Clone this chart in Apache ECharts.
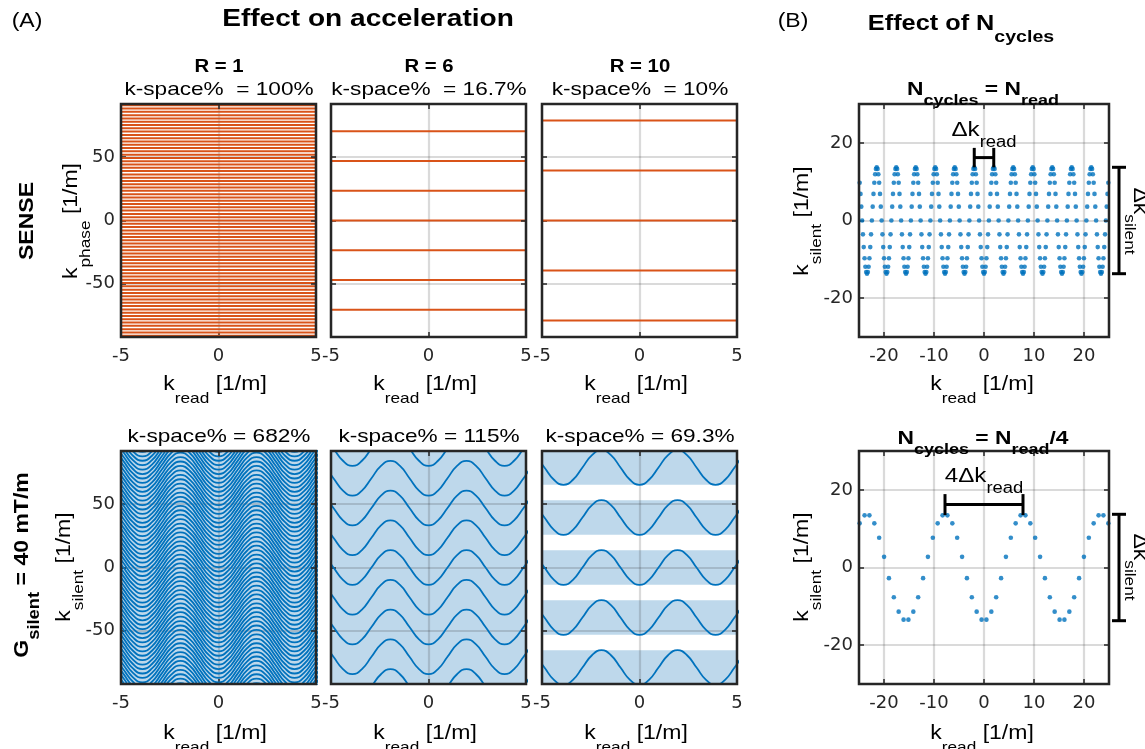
<!DOCTYPE html>
<html>
<head>
<meta charset="utf-8">
<script src="https://cdn.jsdelivr.net/npm/echarts@6/dist/echarts.min.js"></script>
<style>
  html, body { margin: 0; background: #fff; }
  #chart { width: 1145px; height: 749px; }
</style>
</head>
<body>
<div id="chart"></div>
<script>
// ---- values ----
const dkRead = 3.9        // spacing of the silent oscillation along k_read [1/m]
const dkSilent = 27.4     // peak-to-peak k_silent excursion [1/m]

const kReadLimA = [-5, 5]
const kPhaseLim = [-92, 92]
const kReadLimB = [-25, 25]
const kSilentLimB = [-30, 30]

// SENSE: acquired k_phase lines
const senseR1 = [-91, -88.4, -85.8, -83.2, -80.6, -78, -75.4, -72.8, -70.2, -67.6, -65, -62.4, -59.8, -57.2,
  -54.6, -52, -49.4, -46.8, -44.2, -41.6, -39, -36.4, -33.8, -31.2, -28.6, -26, -23.4, -20.8, -18.2, -15.6,
  -13, -10.4, -7.8, -5.2, -2.6, 0, 2.6, 5.2, 7.8, 10.4, 13, 15.6, 18.2, 20.8, 23.4, 26, 28.6, 31.2, 33.8,
  36.4, 39, 41.6, 44.2, 46.8, 49.4, 52, 54.6, 57.2, 59.8, 62.4, 65, 67.6, 70.2, 72.8, 75.4, 78, 80.6, 83.2,
  85.8, 88.4, 91]
const senseR6 = [-70.5, -47, -23.5, 0, 23.5, 47, 70.5]
const senseR10 = [-79, -39.5, 0, 39.5, 79]

// G_silent: centre of each oscillating line
const silentR1 = [-105, -101.5, -98, -94.5, -91, -87.5, -84, -80.5, -77, -73.5, -70, -66.5, -63, -59.5, -56,
  -52.5, -49, -45.5, -42, -38.5, -35, -31.5, -28, -24.5, -21, -17.5, -14, -10.5, -7, -3.5, 0, 3.5, 7, 10.5,
  14, 17.5, 21, 24.5, 28, 31.5, 35, 38.5, 42, 45.5, 49, 52.5, 56, 59.5, 63, 66.5, 70, 73.5, 77, 80.5, 84,
  87.5, 91, 94.5, 98, 101.5, 105]
const silentR6 = [-94, -70.5, -47, -23.5, 0, 23.5, 47, 70.5, 94]
const silentR10 = [-79, -39.5, 0, 39.5, 79]

// one period of an oscillating line (fraction of period, k_silent / half excursion)
const wavePhase = [0, 0.125, 0.25, 0.375, 0.5, 0.625, 0.75, 0.875]
const waveLevel = [-1, -0.71, 0, 0.71, 1, 0.71, 0, -0.71]

// panel B samples, one period each
const dotsFullPhase = [0, 0.042, 0.083, 0.125, 0.167, 0.208, 0.25, 0.292, 0.333, 0.375, 0.417, 0.458,
  0.5, 0.542, 0.583, 0.625, 0.667, 0.708, 0.75, 0.792, 0.833, 0.875, 0.917, 0.958]
const dotsFullLevel = [-1, -0.97, -0.87, -0.71, -0.5, -0.26, 0, 0.26, 0.5, 0.71, 0.87, 0.97,
  1, 0.97, 0.87, 0.71, 0.5, 0.26, 0, -0.26, -0.5, -0.71, -0.87, -0.97]
const dotsQuarterPhase = [0.031, 0.094, 0.156, 0.219, 0.281, 0.344, 0.406, 0.469,
  0.531, 0.594, 0.656, 0.719, 0.781, 0.844, 0.906, 0.969]
const dotsQuarterLevel = [-0.98, -0.83, -0.56, -0.2, 0.2, 0.56, 0.83, 0.98,
  0.98, 0.83, 0.56, 0.2, -0.2, -0.56, -0.83, -0.98]

// annotation brackets: [from, to, at]
const dkReadMark = [-1.95, 1.95, 16.2]
const dk4ReadMark = [-7.8, 7.8, 16.2]
const dkSilentMark = [-13.7, 13.7, 27]

// ---- styling ----
const ink = '#262626'
const orange = '#D95319'
const blue = '#0072BD'
const band = '#bed8eb'
const FONT = '"Liberation Sans", Arial, sans-serif'
const TICKFONT = '"DejaVu Sans", sans-serif'

const rects = [
  { left: 121, top: 104, width: 195, height: 233 },
  { left: 331, top: 104, width: 195, height: 233 },
  { left: 542, top: 104, width: 195, height: 233 },
  { left: 121, top: 451, width: 195, height: 233 },
  { left: 331, top: 451, width: 195, height: 233 },
  { left: 542, top: 451, width: 195, height: 233 },
  { left: 859, top: 104, width: 250, height: 233 },
  { left: 859, top: 451, width: 250, height: 233 }
]

function waveLine (center) {
  const pts = []
  for (let p = -2; p < 2; p++) {
    wavePhase.forEach((f, j) => pts.push([(p + f) * dkRead, center + waveLevel[j] * dkSilent / 2]))
  }
  pts.push([2 * dkRead, center + waveLevel[0] * dkSilent / 2])
  return pts
}

function tile (phases, levels, period, from, to) {
  const pts = []
  for (let p = from; p <= to; p++) {
    phases.forEach((f, j) => pts.push([(p + f) * period, levels[j] * dkSilent / 2]))
  }
  return pts
}

function hBracket (m, cap) {
  const [x0, x1, y] = m
  return [[[x0, y], [x1, y]], [[x0, y - cap], [x0, y + cap]], [[x1, y - cap], [x1, y + cap]]]
}
function vBracket (m, cap) {
  const [y0, y1, x] = m
  return [[[x, y0], [x, y1]], [[x - cap, y0], [x + cap, y0]], [[x - cap, y1], [x + cap, y1]]]
}

// text with TeX-like subscripts: parts = [[text, isSub], ...]; (x, y) = centre of the main glyphs
function label (x, y, parts, o) {
  const B = o.size
  const S = o.sub || Math.round(B * 0.75)
  const D = o.drop || 0
  const weight = o.bold ? 'bold' : 'normal'
  const lhB = B + 2
  const cB = lhB / 2
  const hasSub = parts.some(p => p[1])
  const pad = Math.max(0, cB + 0.35 * B + D - 0.85 * S)
  const H = hasSub ? Math.max(lhB, pad + S) : lhB
  const d = H / 2 - cB
  const rot = o.rot || 0
  const text = parts.map(p => '{' + (p[1] ? 's' : 'b') + '|' + p[0] + '}').join('')
  return {
    type: 'text',
    x: x + d * Math.sin(rot),
    y: y + d * Math.cos(rot),
    rotation: rot,
    scaleX: o.sx || 1.15,
    z: 10,
    silent: true,
    style: {
      text,
      align: 'center',
      verticalAlign: 'middle',
      rich: {
        b: { fontSize: B, fontWeight: weight, fontFamily: FONT, lineHeight: lhB, verticalAlign: 'top', fill: '#000' },
        s: { fontSize: S, fontWeight: weight, fontFamily: FONT, lineHeight: S, padding: [pad, 0, 0, 0], verticalAlign: 'top', fill: '#000' }
      }
    }
  }
}

const xAxis = []
const yAxis = []
const series = []

const noLine = { show: false, onZero: false }
const tick = { show: true, inside: true, length: 5, lineStyle: { color: ink, width: 1.5 } }
const split = { show: true, lineStyle: { color: 'rgba(38,38,38,0.17)', width: 2.2 } }
const tickLabel = { color: ink, fontSize: 18, fontFamily: TICKFONT, showMinLabel: false, showMaxLabel: false }

rects.forEach((r, i) => {
  const isB = i >= 6
  const xs = isB
    ? { min: kReadLimB[0], max: kReadLimB[1], splitNumber: 5 }
    : { min: kReadLimA[0], max: kReadLimA[1], interval: 5 }
  const ys = isB
    ? { min: kSilentLimB[0], max: kSilentLimB[1], splitNumber: 3 }
    : { min: kPhaseLim[0], max: kPhaseLim[1], splitNumber: 4 }
  const xLabel = isB
    ? Object.assign({}, tickLabel, { margin: 10 })
    : { color: ink, fontSize: 18, fontFamily: TICKFONT, margin: 10 }
  const yLabels = [0, 3, 6, 7].includes(i)
  xAxis.push(Object.assign({ gridIndex: i, type: 'value', position: 'bottom', z: 1,
    axisLine: noLine, axisTick: tick, splitLine: split, axisLabel: xLabel }, xs))
  xAxis.push(Object.assign({ gridIndex: i, type: 'value', position: 'top', z: 6,
    axisLine: noLine, axisTick: tick, splitLine: { show: false }, axisLabel: { show: false } }, xs))
  yAxis.push(Object.assign({ gridIndex: i, type: 'value', position: 'left', z: 1,
    axisLine: noLine, axisTick: tick, splitLine: split,
    axisLabel: Object.assign({}, tickLabel, { show: yLabels, margin: 6 }) }, ys))
  yAxis.push(Object.assign({ gridIndex: i, type: 'value', position: 'right', z: 6,
    axisLine: noLine, axisTick: tick, splitLine: { show: false }, axisLabel: { show: false } }, ys))
})

const ax = i => ({ xAxisIndex: 2 * i, yAxisIndex: 2 * i })

// panel A, top row: SENSE lines
;[senseR1, senseR6, senseR10].forEach((lines, i) => {
  lines.forEach(y => {
    series.push(Object.assign({
      type: 'line', data: [[kReadLimA[0], y], [kReadLimA[1], y]], symbol: 'none', silent: true, z: 2,
      lineStyle: { color: orange, width: 2 }
    }, ax(i)))
  })
})

// panel A, bottom row: covered bands + oscillating lines
;[silentR1, silentR6, silentR10].forEach((centers, c) => {
  const i = c + 3
  series.push(Object.assign({
    type: 'custom', z: 0, silent: true,
    data: centers.map(v => [0, v]),
    encode: { x: 0, y: 1 },
    renderItem (params, api) {
      const cs = params.coordSys
      const v = api.value(1)
      const top = Math.max(cs.y, api.coord([0, v + dkSilent / 2])[1])
      const bot = Math.min(cs.y + cs.height, api.coord([0, v - dkSilent / 2])[1])
      if (bot <= top) return
      return { type: 'rect', shape: { x: cs.x, y: top, width: cs.width, height: bot - top }, style: { fill: band } }
    }
  }, ax(i)))
  centers.forEach(v => {
    series.push(Object.assign({
      type: 'line', data: waveLine(v), smooth: true, symbol: 'none', silent: true, z: 2,
      lineStyle: { color: blue, width: 1.8 }
    }, ax(i)))
  })
})

// panel B: sampled trajectories
series.push(Object.assign({
  type: 'scatter', data: tile(dotsFullPhase, dotsFullLevel, dkRead, -7, 6),
  symbolSize: 4.6, itemStyle: { color: blue }, silent: true, z: 2
}, ax(6)))
series.push(Object.assign({
  type: 'scatter', data: tile(dotsQuarterPhase, dotsQuarterLevel, 4 * dkRead, -2, 1),
  symbolSize: 4.6, itemStyle: { color: blue }, silent: true, z: 2
}, ax(7)))

// ---- texts ----
const colX = [219, 429, 640]
const texts = [
  label(27, 22, [['(A)', 0]], { size: 20 }),
  label(368, 21, [['Effect on acceleration', 0]], { size: 23, bold: true, sx: 1.22 }),
  label(793, 22, [['(B)', 0]], { size: 20 }),
  label(961, 20, [['Effect of N', 0], ['cycles', 1]], { size: 22, sub: 17, drop: 11, bold: true }),
  label(colX[0], 68, [['R = 1', 0]], { size: 19, bold: true, sx: 1.07 }),
  label(colX[1], 68, [['R = 6', 0]], { size: 19, bold: true, sx: 1.07 }),
  label(colX[2], 68, [['R = 10', 0]], { size: 19, bold: true, sx: 1.07 }),
  label(colX[0], 91, [['k-space%  = 100%', 0]], { size: 19, sx: 1.19 }),
  label(colX[1], 91, [['k-space%  = 16.7%', 0]], { size: 19, sx: 1.19 }),
  label(colX[2], 91, [['k-space%  = 10%', 0]], { size: 19, sx: 1.19 }),
  label(colX[0], 438, [['k-space% = 682%', 0]], { size: 19, sx: 1.19 }),
  label(colX[1], 438, [['k-space% = 115%', 0]], { size: 19, sx: 1.19 }),
  label(colX[2], 438, [['k-space% = 69.3%', 0]], { size: 19, sx: 1.19 }),
  label(983, 87, [['N', 0], ['cycles', 1], [' = N', 0], ['read', 1]], { size: 19, sub: 15, drop: 9, bold: true, sx: 1.2 }),
  label(983, 436, [['N', 0], ['cycles', 1], [' = N', 0], ['read', 1], ['/4', 0]], { size: 19, sub: 15, drop: 9, bold: true, sx: 1.2 }),
  label(28, 221, [['SENSE', 0]], { size: 20, bold: true, rot: Math.PI / 2 }),
  label(19, 565, [['G', 0], ['silent', 1], [' = 40 mT/m', 0]], { size: 20, sub: 16, drop: 10, bold: true, rot: Math.PI / 2 }),
  label(68, 221, [['k', 0], ['phase', 1], [' [1/m]', 0]], { size: 20, sub: 15, drop: 11, rot: Math.PI / 2 }),
  label(61, 567, [['k', 0], ['silent', 1], [' [1/m]', 0]], { size: 20, sub: 15, drop: 11, rot: Math.PI / 2 }),
  label(799, 221, [['k', 0], ['silent', 1], [' [1/m]', 0]], { size: 20, sub: 15, drop: 11, rot: Math.PI / 2 }),
  label(799, 567, [['k', 0], ['silent', 1], [' [1/m]', 0]], { size: 20, sub: 15, drop: 11, rot: Math.PI / 2 }),
  label(984, 127, [['Δk', 0], ['read', 1]], { size: 21, sub: 16, drop: 10 }),
  label(984, 473, [['4Δk', 0], ['read', 1]], { size: 21, sub: 16, drop: 10 }),
  label(1141, 221, [['Δk', 0], ['silent', 1]], { size: 20, sub: 15, drop: 7, rot: -Math.PI / 2 }),
  label(1141, 567, [['Δk', 0], ['silent', 1]], { size: 20, sub: 15, drop: 7, rot: -Math.PI / 2 })
]
colX.forEach(x => {
  texts.push(label(x - 4, 381, [['k', 0], ['read', 1], [' [1/m]', 0]], { size: 20, sub: 15, drop: 11 }))
  texts.push(label(x - 4, 730, [['k', 0], ['read', 1], [' [1/m]', 0]], { size: 20, sub: 15, drop: 11 }))
})
texts.push(label(982, 381, [['k', 0], ['read', 1], [' [1/m]', 0]], { size: 20, sub: 15, drop: 11 }))
texts.push(label(982, 730, [['k', 0], ['read', 1], [' [1/m]', 0]], { size: 20, sub: 15, drop: 11 }))

const chart = echarts.init(document.getElementById('chart'))
chart.setOption({
  animation: false,
  backgroundColor: '#fff',
  grid: rects.map(r => Object.assign({
    show: true, borderColor: ink, borderWidth: 2.5, backgroundColor: 'transparent', z: 5
  }, r)),
  xAxis,
  yAxis,
  series
})

// brackets, placed through the axes of panel B (partly outside the plot box)
const brackets = [
  [6, hBracket(dkReadMark, 2.5)],
  [6, vBracket(dkSilentMark, 1.4)],
  [7, hBracket(dk4ReadMark, 2.7)],
  [7, vBracket(dkSilentMark, 1.4)]
]
const marks = []
brackets.forEach(([i, segs]) => {
  segs.forEach(([a, b]) => {
    const p = chart.convertToPixel(ax(i), a)
    const q = chart.convertToPixel(ax(i), b)
    marks.push({
      type: 'line', z: 9, silent: true,
      shape: { x1: p[0], y1: p[1], x2: q[0], y2: q[1] },
      style: { stroke: '#000', lineWidth: 3 }
    })
  })
})

chart.setOption({ graphic: { elements: texts.concat(marks) } })
</script>
</body>
</html>
